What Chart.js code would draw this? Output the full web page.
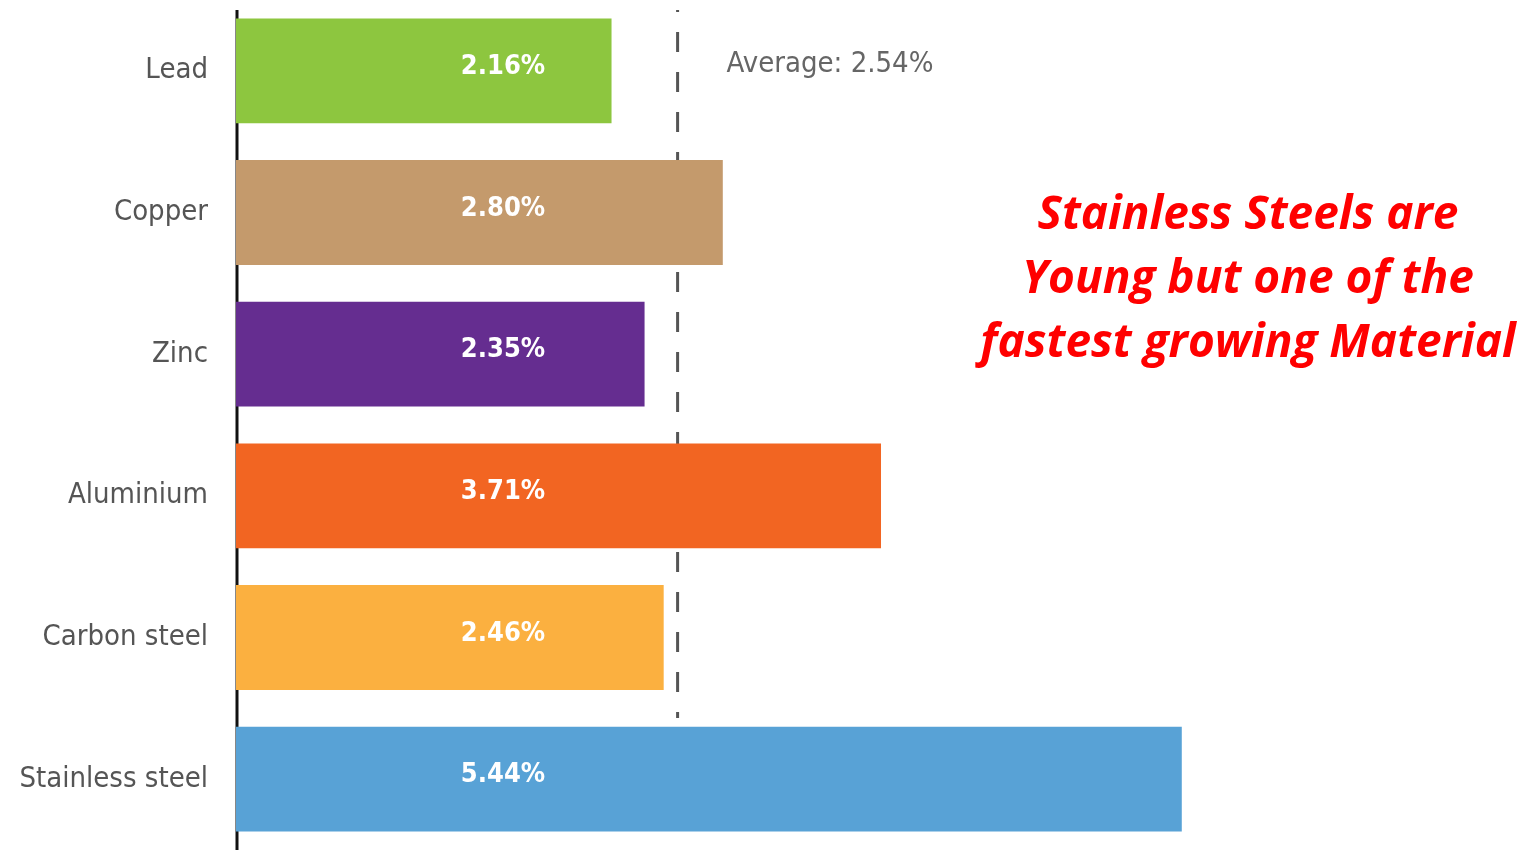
<!DOCTYPE html>
<html>
<head>
<meta charset="utf-8">
<script src="https://cdn.jsdelivr.net/npm/chart.js@4"></script>
<style>
  html, body { margin: 0; padding: 0; background: #fff; }
  #wrap { width: 1531px; height: 850px; position: relative; }
</style>
</head>
<body>
<div id="wrap"><canvas id="growthChart"></canvas></div>
<script>
// chart values
const materials = ['Lead', 'Copper', 'Zinc', 'Aluminium', 'Carbon steel', 'Stainless steel'];
const growthRates = [2.16, 2.80, 2.35, 3.71, 2.46, 5.44];
const barColors = ['#8DC63F', '#C49A6C', '#652D90', '#F26522', '#FBB040', '#58A2D6'];
const averageRate = 2.54;
const noteLines = ['Stainless Steels are', 'Young but one of the', 'fastest growing Material'];

const labelFont = '"DejaVu Sans Condensed", "Liberation Sans Narrow", sans-serif';

// dashed average line + left axis line, drawn under the bars
const averageLine = {
    id: 'averageLine',
    beforeDatasetsDraw(chart) {
        const ctx = chart.ctx;
        const area = chart.chartArea;
        const x = chart.scales.x.getPixelForValue(averageRate);
        ctx.save();
        ctx.strokeStyle = '#555';
        ctx.lineWidth = 3;
        ctx.setLineDash([20, 20]);
        ctx.lineDashOffset = 18;
        ctx.beginPath();
        ctx.moveTo(x, 10);
        ctx.lineTo(x, 718);
        ctx.stroke();
        ctx.restore();

        // axis line starts a little below the top
        ctx.save();
        ctx.strokeStyle = '#111';
        ctx.lineWidth = 3;
        ctx.beginPath();
        ctx.moveTo(area.left + 1, 10);
        ctx.lineTo(area.left + 1, area.bottom);
        ctx.stroke();
        ctx.restore();

        ctx.save();
        ctx.fillStyle = '#666';
        ctx.font = '29px ' + labelFont;
        ctx.textBaseline = 'alphabetic';
        ctx.fillText('Average: ' + averageRate.toFixed(2) + '%', x + 49, 72);
        ctx.restore();
    }
};

// value text inside bars + red note on the right
const barText = {
    id: 'barText',
    afterDatasetsDraw(chart) {
        const ctx = chart.ctx;
        const meta = chart.getDatasetMeta(0);
        ctx.save();
        ctx.fillStyle = '#fff';
        ctx.font = 'bold 27px ' + labelFont;
        ctx.textAlign = 'center';
        ctx.textBaseline = 'middle';
        meta.data.forEach((bar, i) => {
            ctx.fillText(growthRates[i].toFixed(2) + '%', chart.chartArea.left + 267, bar.y - 4);
        });
        ctx.restore();

        ctx.save();
        ctx.fillStyle = '#FF0000';
        ctx.font = 'italic bold 46px "Open Sans", Lato, sans-serif';
        ctx.textAlign = 'center';
        ctx.textBaseline = 'alphabetic';
        noteLines.forEach((line, i) => {
            ctx.fillText(line, 1248, 229 + i * 64);
        });
        ctx.restore();
    }
};

const ctx = document.getElementById('growthChart').getContext('2d');
const growthChart = new Chart(ctx, {
    type: 'bar',
    data: {
        labels: materials,
        datasets: [{
            data: growthRates,
            backgroundColor: barColors,
            borderWidth: 0,
            barPercentage: 0.74,
            categoryPercentage: 1
        }]
    },
    options: {
        indexAxis: 'y',
        responsive: true,
        maintainAspectRatio: false,
        animation: false,
        layout: { padding: { top: 0, bottom: 0, left: 0, right: 78 } },
        plugins: {
            legend: { display: false },
            tooltip: { enabled: false }
        },
        scales: {
            x: {
                display: false,
                min: 0,
                max: 7
            },
            y: {
                afterFit(scale) {
                    scale.width = 236;
                    // no extra top/bottom room for the labels
                    scale.paddingTop = 0;
                    scale.paddingBottom = 0;
                },
                grid: { display: false, drawTicks: false },
                border: { display: false },
                ticks: {
                    color: '#555',
                    padding: 28,
                    font: { family: labelFont, size: 29 }
                }
            }
        }
    },
    plugins: [averageLine, barText]
});
</script>
</body>
</html>
